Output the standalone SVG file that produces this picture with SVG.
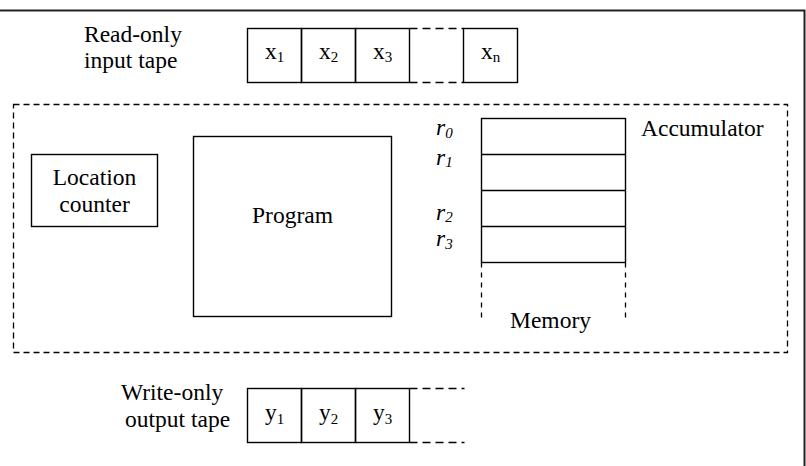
<svg xmlns="http://www.w3.org/2000/svg" width="806" height="466" viewBox="0 0 806 466">
<style>
text{font-family:'Liberation Serif','Times New Roman','DejaVu Serif',serif;font-size:23.5px;fill:#000}
.c{text-anchor:middle}
.s{font-size:15px}
.i{font-style:italic}
.box{fill:none;stroke:#000;stroke-width:1.4}
.dash{fill:none;stroke:#000;stroke-width:1.3;stroke-dasharray:8,5}
.frame{fill:none;stroke:#222;stroke-width:2}
</style>
<rect width="806" height="466" fill="#fff"/>
<g id="frame">
<polyline class="frame" points="0,10.5 804.5,10.5 804.5,466"/>
</g>
<g id="input-tape">
<text x="84" y="42">Read-only</text>
<text x="84" y="67.5">input tape</text>
<rect class="box" x="247.5" y="28.5" width="54" height="54"/>
<rect class="box" x="301.5" y="28.5" width="54" height="54"/>
<rect class="box" x="355.5" y="28.5" width="54" height="54"/>
<line class="dash" x1="409.5" y1="28.5" x2="463.5" y2="28.5"/>
<line class="dash" x1="409.5" y1="82.5" x2="463.5" y2="82.5"/>
<rect class="box" x="463.5" y="28.5" width="54" height="54"/>
<text class="c" x="274.5" y="59">x<tspan class="s" dy="3">1</tspan></text>
<text class="c" x="328.5" y="59">x<tspan class="s" dy="3">2</tspan></text>
<text class="c" x="382.5" y="59">x<tspan class="s" dy="3">3</tspan></text>
<text class="c" x="490.5" y="59">x<tspan class="s" dy="3">n</tspan></text>
</g>
<g id="machine">
<rect x="13.5" y="104.5" width="774" height="248" fill="none" stroke="#000" stroke-width="1.3" stroke-dasharray="6,4"/>
</g>
<g id="location-counter">
<rect class="box" x="31.5" y="154.5" width="126" height="72"/>
<text class="c" x="94.5" y="185">Location</text>
<text class="c" x="94.5" y="212">counter</text>
</g>
<g id="program">
<rect class="box" x="193.5" y="136.5" width="198" height="180"/>
<text class="c" x="292.5" y="223">Program</text>
</g>
<g id="memory">
<rect class="box" x="481.5" y="118.5" width="144" height="144"/>
<line class="box" x1="481.5" y1="154.5" x2="625.5" y2="154.5"/>
<line class="box" x1="481.5" y1="190.5" x2="625.5" y2="190.5"/>
<line class="box" x1="481.5" y1="226.5" x2="625.5" y2="226.5"/>
<line x1="481.5" y1="262.5" x2="481.5" y2="318" stroke="#000" stroke-width="1.3" stroke-dasharray="5,5"/>
<line x1="625.5" y1="262.5" x2="625.5" y2="318" stroke="#000" stroke-width="1.3" stroke-dasharray="5,5"/>
<text class="i" x="436" y="135">r<tspan class="s" dy="3">0</tspan></text>
<text class="i" x="436" y="164.5">r<tspan class="s" dy="2">1</tspan></text>
<text class="i" x="436" y="219.5">r<tspan class="s" dy="2">2</tspan></text>
<text class="i" x="436" y="246">r<tspan class="s" dy="2.5">3</tspan></text>
<text class="c" x="550.5" y="328">Memory</text>
</g>
<g id="accumulator">
<text x="641" y="136">Accumulator</text>
</g>
<g id="output-tape">
<text x="121" y="400">Write-only</text>
<text x="125" y="427">output tape</text>
<rect class="box" x="247.5" y="388.5" width="54" height="54"/>
<rect class="box" x="301.5" y="388.5" width="54" height="54"/>
<rect class="box" x="355.5" y="388.5" width="54" height="54"/>
<line class="dash" x1="409.5" y1="388.5" x2="464.5" y2="388.5"/>
<line class="dash" x1="409.5" y1="442.5" x2="464.5" y2="442.5"/>
<text class="c" x="274.5" y="420">y<tspan class="s" dy="4">1</tspan></text>
<text class="c" x="328.5" y="420">y<tspan class="s" dy="4">2</tspan></text>
<text class="c" x="382.5" y="420">y<tspan class="s" dy="4">3</tspan></text>
</g>
</svg>
